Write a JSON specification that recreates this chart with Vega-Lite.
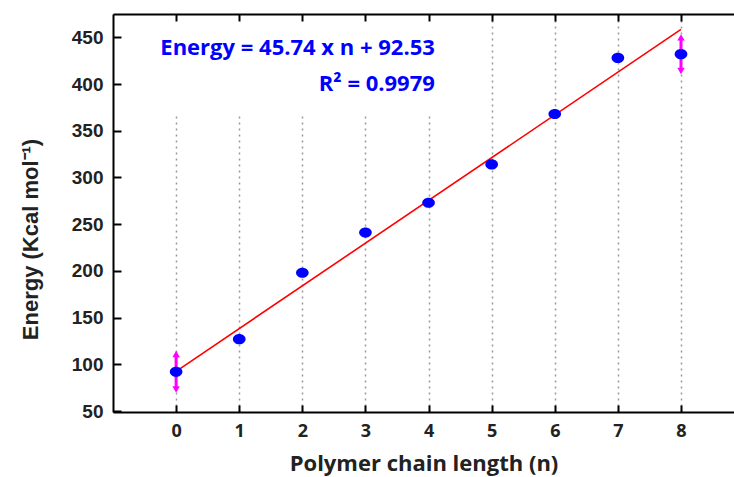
{
  "$schema": "https://vega.github.io/schema/vega-lite/v6.json",
  "autosize": "none",
  "width": 621,
  "height": 398,
  "padding": {"left": 113, "top": 14, "right": 0, "bottom": 65},
  "background": "white",
  "config": {"view": {"stroke": null}},
  "datasets": {
    "pts": [
      {"n": 0, "e": 92},
      {"n": 1, "e": 127},
      {"n": 2, "e": 198},
      {"n": 3, "e": 241},
      {"n": 4, "e": 273},
      {"n": 5, "e": 314},
      {"n": 6, "e": 368},
      {"n": 7, "e": 428},
      {"n": 8, "e": 432}
    ],
    "fit": [
      {"n": 0, "e": 92.53},
      {"n": 8, "e": 458.45}
    ],
    "err": [
      {"n": 0, "e": 92, "lo": 73, "hi": 111},
      {"n": 8, "e": 432, "lo": 414, "hi": 450}
    ],
    "box": [
      {"n": -0.55, "n2": 4.5, "e": 369, "e2": 475}
    ],
    "eq": [
      {"n": 4.1, "e": 431, "label": "Energy = 45.74 x n + 92.53"},
      {"n": 4.1, "e": 393, "label": "R² = 0.9979"}
    ]
  },
  "resolve": {"axis": {"x": "independent"}},
  "layer": [
    {
      "data": {"name": "box"},
      "mark": {"type": "rect", "color": "white"},
      "encoding": {
        "x": {"field": "n", "type": "quantitative",
          "scale": {"domain": [-1, 8.84], "nice": false, "zero": false},
          "axis": {
            "orient": "bottom", "values": [0,1,2,3,4,5,6,7,8],
            "title": "Polymer chain length (n)",
            "grid": true, "gridDash": [2, 4], "gridColor": "#9a9a9a", "gridWidth": 1.5,
            "domainColor": "black", "domainWidth": 2,
            "tickColor": "black", "tickWidth": 2, "tickSize": -7,
            "labelFont": "Open Sans", "labelFontWeight": "bold", "labelFontSize": 18, "labelColor": "#222",
            "labelPadding": 17,
            "titleFont": "Open Sans", "titleFontWeight": "bold", "titleFontSize": 22, "titleColor": "#222",
            "titlePadding": 13,
            "zindex": 0
          }},
        "x2": {"field": "n2"},
        "y": {"field": "e", "type": "quantitative",
          "scale": {"domain": [49, 475], "nice": false, "zero": false},
          "title": "Energy (Kcal mol⁻¹)",
          "axis": {
            "orient": "left",
            "values": [50,75,100,125,150,175,200,225,250,275,300,325,350,375,400,425,450],
            "labelExpr": "datum.value % 50 == 0 ? datum.label : ''",
            "grid": false,
            "domainColor": "black", "domainWidth": 2,
            "tickColor": "black", "tickWidth": 2,
            "tickSize": {"condition": {"test": "datum.value % 50 == 0", "value": -8}, "value": -4},
            "labelFont": "Liberation Sans", "labelFontWeight": "bold", "labelFontSize": 19, "labelColor": "#222",
            "labelPadding": 18,
            "titleFont": "Liberation Sans", "titleFontWeight": "bold", "titleFontSize": 22, "titleColor": "#222",
            "titleX": -71, "titleY": 225,
            "zindex": 1
          }},
        "y2": {"field": "e2"}
      }
    },
    {
      "data": {"name": "fit"},
      "mark": {"type": "line", "color": "#ff0000", "strokeWidth": 1.6},
      "encoding": {
        "x": {"field": "n", "type": "quantitative",
          "axis": {
            "orient": "top", "values": [0,1,2,3,4,5,6,7,8],
            "labels": false, "title": null, "grid": false,
            "domainColor": "black", "domainWidth": 2,
            "tickColor": "black", "tickWidth": 2, "tickSize": -7,
            "zindex": 1
          }},
        "y": {"field": "e", "type": "quantitative", "title": "Energy (Kcal mol⁻¹)"}
      }
    },
    {
      "data": {"name": "err"},
      "mark": {"type": "rule", "color": "#ff00ff", "strokeWidth": 3},
      "encoding": {
        "x": {"field": "n", "type": "quantitative", "axis": null},
        "y": {"field": "lo", "type": "quantitative", "title": "Energy (Kcal mol⁻¹)"},
        "y2": {"field": "hi"}
      }
    },
    {
      "data": {"name": "err"},
      "mark": {"type": "point", "shape": "triangle-up", "filled": true, "color": "#ff00ff", "size": 55, "opacity": 1},
      "encoding": {
        "x": {"field": "n", "type": "quantitative", "axis": null},
        "y": {"field": "hi", "type": "quantitative", "title": "Energy (Kcal mol⁻¹)"}
      }
    },
    {
      "data": {"name": "err"},
      "mark": {"type": "point", "shape": "triangle-down", "filled": true, "color": "#ff00ff", "size": 55, "opacity": 1},
      "encoding": {
        "x": {"field": "n", "type": "quantitative", "axis": null},
        "y": {"field": "lo", "type": "quantitative", "title": "Energy (Kcal mol⁻¹)"}
      }
    },
    {
      "data": {"name": "pts"},
      "mark": {"type": "point", "shape": "M -1 0 A 1 0.8 0 1 0 1 0 A 1 0.8 0 1 0 -1 0 Z", "filled": true, "color": "#0000ff", "size": 160, "opacity": 1},
      "encoding": {
        "x": {"field": "n", "type": "quantitative", "axis": null},
        "y": {"field": "e", "type": "quantitative", "title": "Energy (Kcal mol⁻¹)"}
      }
    },
    {
      "data": {"name": "eq"},
      "mark": {"type": "text", "align": "right", "baseline": "alphabetic", "font": "Open Sans", "fontWeight": "bold", "fontSize": 22, "color": "#0000ff"},
      "encoding": {
        "x": {"field": "n", "type": "quantitative", "axis": null},
        "y": {"field": "e", "type": "quantitative", "title": "Energy (Kcal mol⁻¹)"},
        "text": {"field": "label"}
      }
    }
  ]
}
